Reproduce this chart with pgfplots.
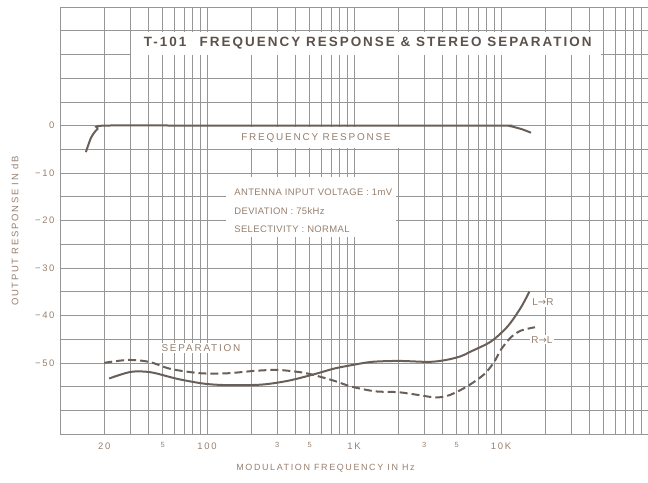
\documentclass[border=0pt]{standalone}
\usepackage{fontspec}
\setmainfont{Liberation Sans}
\newfontfamily\symfont{DejaVu Sans}
\newfontfamily\lbl[LetterSpace=18]{Liberation Sans}
\newfontfamily\info[LetterSpace=4]{Liberation Sans}
\newfontfamily\ttlfont[LetterSpace=15]{Liberation Sans}
\usepackage{pgfplots}
\pgfplotsset{compat=1.18}

\definecolor{gridc}{RGB}{150,150,150}
\definecolor{curve}{RGB}{105,95,88}
\definecolor{lab}{RGB}{150,128,112}
\definecolor{ttl}{RGB}{92,82,76}

\newcommand{\ar}{{\symfont\char"2192}}
\newcommand{\sm}[1]{{\fontsize{7.5}{8}\selectfont #1}}

\begin{document}
\begin{tikzpicture}
\begin{axis}[
  scale only axis, width=588bp, height=427bp,
  xmode=log, xmin=10, xmax=100000,
  ymin=-65, ymax=25,
  clip=false,
  axis line style={gridc, line width=0.8bp},
  xtick={20,50,100,300,500,1000,3000,5000,10000},
  xticklabels={20,\sm{5},100,\sm{3},\sm{5},1K,\sm{3},\sm{5},10K},
  minor xtick={20,30,40,50,60,70,80,90,200,300,400,500,600,700,800,900,2000,3000,4000,5000,6000,7000,8000,9000,20000,30000,40000,50000,60000,70000,80000,90000},
  ytick={-50,-40,-30,-20,-10,0},
  yticklabels={−50,−40,−30,−20,−10,0},
  minor ytick={-60,-55,-45,-35,-25,-15,-5,5,10,15,20},
  grid=both,
  major grid style={gridc, line width=0.6bp},
  minor grid style={gridc, line width=0.6bp},
  major tick length=0pt, minor tick length=0pt,
  /pgf/number format/assume math mode=true,
  tick label style={lab, font=\lbl\fontsize{9.5}{11}\selectfont},
  xticklabel style={yshift=-5bp},
  yticklabel style={xshift=-2bp},
]
% white panels behind the texts (drawn before the curves)
\node[fill=white, inner sep=0pt, minimum width=470bp, minimum height=23bp] at (axis cs:1210,17.4) {};
\node[fill=white, inner sep=0pt, minimum width=173bp, minimum height=21bp] at (axis cs:522,-2.6) {};
\node[fill=white, inner sep=0pt, anchor=north west, minimum width=170bp, minimum height=60bp] at (axis cs:134.6,-10.76) {};

% frequency response
\addplot[curve, line width=2bp, smooth] coordinates {
  (15.0,-5.6) (16.3,-2.5) (18.0,-0.7) (20.2,0) (100,0) (1000,0) (10000,0)
  (11300,-0.05) (12600,-0.4) (14000,-0.8) (16000,-1.5)
};
% separation L->R (solid)
\addplot[curve, line width=2bp, smooth] coordinates {
  (21.6,-53.3) (30.4,-51.9) (41.6,-52.0) (63.2,-53.4) (95.9,-54.4)
  (138,-54.7) (233,-54.6) (354,-53.8) (537,-52.4) (735,-51.2)
  (959,-50.5) (1318,-49.8) (2017,-49.6) (3238,-49.8) (4226,-49.4)
  (5346,-48.6) (6250,-47.6) (8550,-45.5) (11110,-42.3) (13680,-38.3) (15590,-35.0)
};
% separation R->L (dashed)
\addplot[curve, line width=2bp, smooth, dash pattern=on 8bp off 4bp] coordinates {
  (20,-50.0) (28.9,-49.4) (40.4,-49.8) (56.9,-51.3) (91,-52.2)
  (138,-52.2) (210,-51.7) (303,-51.5) (436,-52.0) (537,-52.6)
  (735,-53.8) (959,-55.0) (1390,-56.0) (2017,-56.2) (2770,-56.8)
  (3612,-57.3) (4470,-56.8) (5930,-54.9) (7690,-52.4) (8990,-49.8)
  (10000,-47.2) (11700,-44.6) (13680,-43.2) (17020,-42.5)
};

% title
\node[text=ttl, font=\ttlfont\bfseries\fontsize{13.5}{15}\selectfont] at (axis cs:1240,17.4)
  {T-101\quad FREQUENCY RESPONSE \& STEREO SEPARATION};

% texts
\node[text=lab, font=\lbl\fontsize{10}{11}\selectfont] at (axis cs:551,-2.6) {FREQUENCY RESPONSE};
\node[text=lab, font=\info\fontsize{9.5}{18.5}\selectfont, anchor=west, align=left, inner sep=0pt] at (axis cs:153,-18.0)
  {ANTENNA INPUT VOLTAGE : 1mV\\DEVIATION : 75kHz\\SELECTIVITY : NORMAL};
\node[fill=white, text=lab, inner sep=1.5bp, font=\lbl\fontsize{10}{11}\selectfont] at (axis cs:91,-46.8) {SEPARATION};
\node[fill=white, text=lab, inner sep=1bp, font=\lbl\fontsize{10}{11}\selectfont] at (axis cs:19300,-37.3) {L\ar R};
\node[fill=white, text=lab, inner sep=1bp, font=\lbl\fontsize{10}{11}\selectfont] at (axis cs:19000,-45.1) {R\ar L};

% axis labels
\node[text=lab, rotate=90, font=\lbl\fontsize{9.5}{11}\selectfont] at ([xshift=-45bp]rel axis cs:0,0.475) {OUTPUT RESPONSE IN dB};
\node[text=lab, font=\lbl\fontsize{9}{11}\selectfont] at ([yshift=-34bp]axis cs:640,-65) {MODULATION FREQUENCY IN Hz};
\end{axis}
\pgfresetboundingbox
\path[use as bounding box] (current axis.south west) ++(-60bp,-49bp) rectangle ([yshift=7bp]current axis.north east);
\end{tikzpicture}
\end{document}
